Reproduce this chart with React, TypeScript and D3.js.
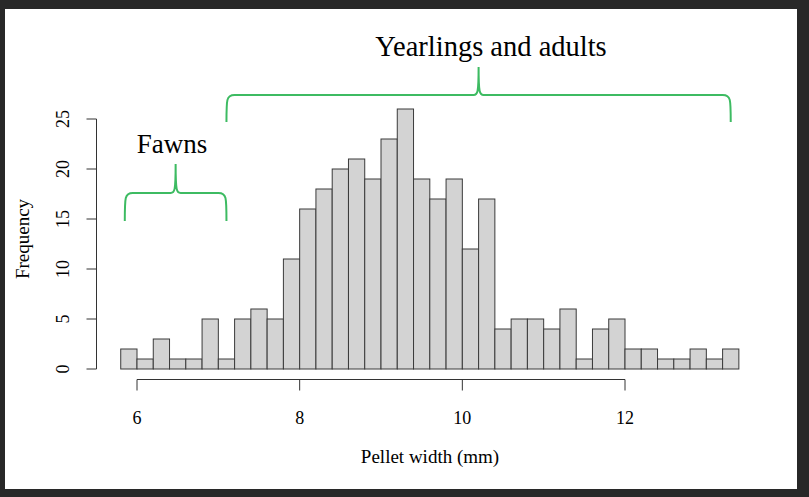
import React, { useEffect, useRef } from 'react';
import * as d3 from 'd3';

// histogram bins: 0.2 mm wide from 5.8 to 13.4
const binStarts = d3.range(38).map(i => +(5.8 + i * 0.2).toFixed(1));
const counts = [
  2, 1, 3, 1, 1, 5, 1, 5, 6, 5,
  11, 16, 18, 20, 21, 19, 23, 26, 19, 17,
  19, 12, 17, 4, 5, 5, 4, 6, 1, 4,
  5, 2, 2, 1, 1, 2, 1, 2,
];
const xTicks = [6, 8, 10, 12];
const yTicks = [0, 5, 10, 15, 20, 25];
const groups = ['Fawns', 'Yearlings and adults'];
const groupRanges = [[5.85, 7.1], [7.1, 13.3]];

const App = () => {
  const ref = useRef(null);

  useEffect(() => {
    const width = 809;
    const height = 497;
    const svg = d3.select(ref.current);
    svg.selectAll('*').remove();
    svg.attr('width', width).attr('height', height);

    const font = '"Liberation Serif", "Times New Roman", serif';

    // dark frame around a white panel
    svg.append('rect').attr('width', width).attr('height', height).attr('fill', '#282828');
    svg.append('rect').attr('x', 5).attr('y', 9).attr('width', 792).attr('height', 480).attr('fill', '#fff');

    const x = d3.scaleLinear().domain([6, 12]).range([137, 625]);
    const y = d3.scaleLinear().domain([0, 25]).range([369, 119]);

    const bins = binStarts.map((s, i) => ({ x0: s, x1: s + 0.2, n: counts[i] }));

    svg.append('g')
      .selectAll('rect')
      .data(bins)
      .enter().append('rect')
      .attr('x', d => x(d.x0))
      .attr('y', d => y(d.n))
      .attr('width', d => x(d.x1) - x(d.x0))
      .attr('height', d => y(0) - y(d.n))
      .attr('fill', '#d3d3d3')
      .attr('stroke', '#3a3a3a')
      .attr('stroke-width', 1);

    // x axis
    const xAxis = svg.append('g').attr('transform', 'translate(0,379.5)');
    xAxis.append('line')
      .attr('x1', x(6)).attr('x2', x(12))
      .attr('stroke', '#333');
    xTicks.forEach(t => {
      xAxis.append('line')
        .attr('x1', x(t)).attr('x2', x(t)).attr('y1', 0).attr('y2', 11)
        .attr('stroke', '#333');
      xAxis.append('text')
        .attr('x', x(t)).attr('y', 44)
        .attr('text-anchor', 'middle')
        .attr('font-family', font).attr('font-size', 18)
        .text(t);
    });

    // y axis
    const yAxis = svg.append('g').attr('transform', 'translate(96.5,0)');
    yAxis.append('line')
      .attr('y1', y(0)).attr('y2', y(25))
      .attr('stroke', '#333');
    yTicks.forEach(t => {
      yAxis.append('line')
        .attr('x1', -10).attr('x2', 0).attr('y1', y(t)).attr('y2', y(t))
        .attr('stroke', '#333');
      yAxis.append('text')
        .attr('transform', `translate(-28,${y(t)}) rotate(-90)`)
        .attr('text-anchor', 'middle')
        .attr('font-family', font).attr('font-size', 18)
        .text(t);
    });

    svg.append('text')
      .attr('x', 430).attr('y', 463)
      .attr('text-anchor', 'middle')
      .attr('font-family', font).attr('font-size', 19)
      .text('Pellet width (mm)');

    svg.append('text')
      .attr('transform', `translate(29,${(y(0) + y(25)) / 2 - 5}) rotate(-90)`)
      .attr('text-anchor', 'middle')
      .attr('font-family', font).attr('font-size', 19)
      .text('Frequency');

    // curly braces
    const brace = (x0, x1, yb, yh, yt) => {
      const xm = (x0 + x1) / 2;
      const r = 4;
      return `M${x0},${yb} C${x0},${yh + r} ${x0},${yh} ${x0 + r * 2},${yh}`
        + ` L${xm - 5},${yh} C${xm - 1},${yh} ${xm},${yh - 2} ${xm},${yt}`
        + ` C${xm},${yh - 2} ${xm + 1},${yh} ${xm + 5},${yh}`
        + ` L${x1 - r * 2},${yh} C${x1},${yh} ${x1},${yh + r} ${x1},${yb}`;
    };
    const braceLevels = [[14.8, 17.6, 20.5], [24.7, 27.4, 30.2]];
    const labelY = [153, 56];
    const labelSize = [27, 28.5];

    groups.forEach((g, i) => {
      const [a, b] = groupRanges[i];
      const [yb, yh, yt] = braceLevels[i];
      svg.append('path')
        .attr('d', brace(x(a), x(b), y(yb), y(yh), y(yt)))
        .attr('fill', 'none')
        .attr('stroke', '#3dbb62')
        .attr('stroke-width', 2);
      svg.append('text')
        .attr('x', i === 0 ? 172 : 491).attr('y', labelY[i])
        .attr('text-anchor', 'middle')
        .attr('font-family', font).attr('font-size', labelSize[i])
        .text(g);
    });
  }, []);

  return <svg ref={ref} style={{ position: 'fixed', left: 0, top: 0 }}></svg>;
};

export default App;
